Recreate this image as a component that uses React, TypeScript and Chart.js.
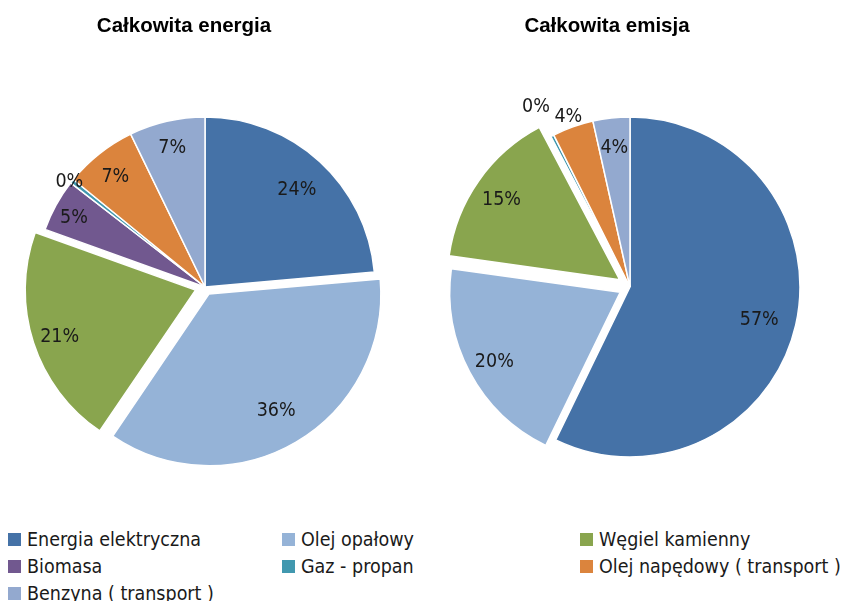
import React, { useEffect, useRef } from "react";
import { Chart, registerables } from "chart.js";

Chart.register(...registerables);

const categories = [
  "Energia elektryczna",
  "Olej opałowy",
  "Węgiel kamienny",
  "Biomasa",
  "Gaz - propan",
  "Olej napędowy ( transport )",
  "Benzyna ( transport )",
];
const energyValues = [23.6, 35.9, 21.0, 5.0, 0.4, 6.9, 7.2];
const emissionValues = [57.2, 20.0, 15.1, 0, 0.3, 3.9, 3.5];
const titles = ["Całkowita energia", "Całkowita emisja"];

const colors = ["#4572A7", "#95B3D7", "#89A54E", "#71588F", "#4198AF", "#DB843D", "#93A9CF"];
const LABEL_FONT = '"DejaVu Sans Condensed", "Liberation Sans Narrow", "DejaVu Sans"';

const pctLabels = {
  id: "pctLabels",
  afterDatasetsDraw(chart: any, _args: any, opts: any) {
    const ctx = chart.ctx;
    const meta = chart.getDatasetMeta(0);
    const ds = chart.data.datasets[0];
    const vals = ds.data as number[];
    const total = vals.reduce((a: number, b: number) => a + b, 0);
    const offs = ds.offset as number[];
    ctx.save();
    ctx.font = `19.5px ${LABEL_FONT}`;
    ctx.fillStyle = "#1a1a1a";
    ctx.textAlign = "center";
    ctx.textBaseline = "middle";
    meta.data.forEach((arc: any, i: number) => {
      const v = vals[i];
      if (!v) return;
      const p = arc.getProps(["x", "y", "startAngle", "endAngle", "outerRadius"], true);
      const mid = (p.startAngle + p.endAngle) / 2;
      const r = opts.radii[i] * p.outerRadius + offs[i] / 4;
      ctx.fillText(Math.round((v / total) * 100) + "%", p.x + Math.cos(mid) * r, p.y + Math.sin(mid) * r + 3);
    });
    ctx.restore();
  },
};

function PieChart(props: { values: number[]; offsets: number[]; radii: number[]; padRight: number; width: number }) {
  const ref = useRef<HTMLCanvasElement>(null);
  useEffect(() => {
    const chart = new Chart(ref.current as HTMLCanvasElement, {
      type: "pie",
      data: {
        labels: categories,
        datasets: [
          {
            data: props.values,
            backgroundColor: colors,
            borderColor: "#ffffff",
            borderWidth: 1.5,
            offset: props.offsets,
            clip: false,
          } as any,
        ],
      },
      options: {
        animation: false,
        responsive: false,
        radius: 170,
        layout: { padding: { top: 94, bottom: 0, left: 0, right: props.padRight } },
        plugins: {
          legend: { display: false },
          tooltip: { enabled: false },
          title: { display: false },
          pctLabels: { radii: props.radii },
        } as any,
      } as any,
      plugins: [pctLabels],
    });
    return () => chart.destroy();
  }, []);
  return <canvas ref={ref} width={props.width} height={480} style={{ display: "block" }} />;
}

const legendCols = [8, 282, 580];
const legendRows = [539, 566, 593];

export default function App() {
  return (
    <div style={{ position: "absolute", left: 0, top: 0, width: 844, height: 601, background: "#fff", overflow: "hidden" }}>
      <div style={{ position: "absolute", left: 0, top: 0 }}>
        <PieChart
          values={energyValues}
          offsets={[0, 32, 40, 0, 0, 0, 0]}
          radii={[0.8, 0.78, 0.84, 0.88, 1.02, 0.85, 0.86]}
          padRight={10}
          width={420}
        />
      </div>
      <div style={{ position: "absolute", left: 420, top: 0 }}>
        <PieChart
          values={emissionValues}
          offsets={[0, 44, 50, 0, 0, 0, 0]}
          radii={[0.78, 0.84, 0.85, 0.85, 1.21, 1.08, 0.84]}
          padRight={4}
          width={424}
        />
      </div>
      {titles.map((t, i) => (
        <div
          key={t}
          style={{
            position: "absolute",
            left: i === 0 ? 0 : 420,
            width: i === 0 ? 368 : 374,
            top: 13,
            textAlign: "center",
            font: 'bold 20.5px "Liberation Sans", Arial, sans-serif',
            lineHeight: "24px",
            color: "#000",
          }}
        >
          {t}
        </div>
      ))}
      {categories.map((c, i) => (
        <div
          key={c}
          style={{
            position: "absolute",
            left: legendCols[i % 3],
            top: legendRows[Math.floor(i / 3)] - 12,
            height: 24,
            display: "flex",
            alignItems: "center",
            whiteSpace: "nowrap",
            font: `19.5px ${LABEL_FONT}`,
            color: "#1a1a1a",
          }}
        >
          <span style={{ display: "inline-block", width: 13, height: 13, background: colors[i], marginRight: 6 }} />
          {c}
        </div>
      ))}
    </div>
  );
}
